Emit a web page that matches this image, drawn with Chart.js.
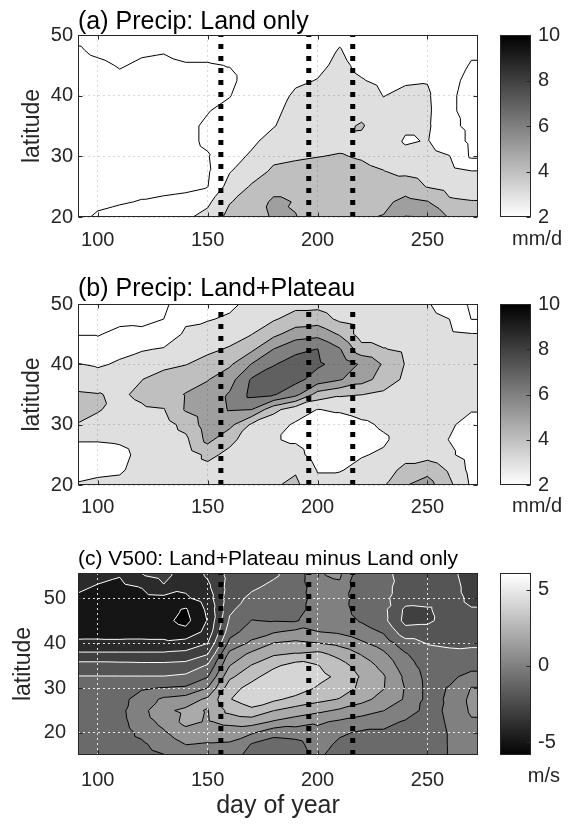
<!DOCTYPE html>
<html><head><meta charset="utf-8">
<script src="https://cdn.jsdelivr.net/npm/chart.js@4.4.0/dist/chart.umd.min.js"></script>
<style>
body{margin:0;background:#fff;width:570px;height:826px;overflow:hidden;position:relative;}
canvas{position:absolute;}
</style></head><body>
<canvas id="pa" width="480" height="262" style="left:0;top:0"></canvas>
<canvas id="ca" width="82" height="262" style="left:480px;top:0"></canvas>
<canvas id="pb" width="480" height="265" style="left:0;top:265px"></canvas>
<canvas id="cb" width="82" height="265" style="left:480px;top:265px"></canvas>
<canvas id="pc" width="480" height="286" style="left:0;top:540px"></canvas>
<canvas id="cc" width="80" height="286" style="left:480px;top:540px"></canvas>
<script>
// ---------------- data ----------------
const days = [90,100,110,120,130,140,150,160,170,180,190,200,210,220,230,240,250,260,270,280];
const latsAB = [20,22.5,25,27.5,30,32.5,35,37.5,40,42.5,45,47.5,50];
const latsC = [15,17.5,20,22.5,25,27.5,30,32.5,35,37.5,40,42.5,45,47.5,50,52.5,55,57.5];
const dayRange = [91, 273];
const latRangeAB = [20, 50];
const latRangeC = [15.1, 55.6];
const markerDays = [156, 196, 216];
const dayTicks = [100, 150, 200, 250];
const latTicksAB = [20, 30, 40, 50];
const latTicksC = [20, 30, 40, 50];
const precipTicks = [2, 4, 6, 8, 10];
const v500Ticks = [-5, 0, 5];
const precipLevels = [2, 3, 4, 5, 6, 7, 8, 9];
const v500Levels = [-5, -4, -3, -2, -1, 0, 1, 2, 3, 4, 5];

// (a) precipitation, land only (mm/d); one row per day, values from lat 20 to 50
const precipLand = [
 [1.8,1.7,1.7,1.7,1.7,1.7,1.7,1.7,1.7,1.7,1.7,1.9,2.2],
 [2.1,1.85,1.7,1.65,1.6,1.6,1.6,1.6,1.6,1.65,1.85,2.15,2.3],
 [2.2,1.95,1.75,1.65,1.6,1.6,1.6,1.6,1.65,1.85,2.05,2.3,2.4],
 [2.3,2.03,1.85,1.7,1.6,1.6,1.6,1.6,1.65,1.75,1.9,2.1,2.3],
 [2.4,2.1,1.85,1.7,1.65,1.6,1.6,1.6,1.65,1.7,1.85,2.05,2.3],
 [2.85,2.15,1.9,1.75,1.8,1.85,1.85,1.8,1.75,1.75,1.95,2.2,2.3],
 [3.3,2.8,1.98,1.9,1.95,2.1,2.1,1.97,1.85,1.85,1.95,2.2,2.3],
 [4.3,3.95,3.4,2.95,2.6,2.4,2.3,2.2,1.97,1.85,2.02,2.3,2.4],
 [4.6,4.35,4.1,3.6,3.15,2.8,2.6,2.5,2.4,2.3,2.3,2.4,2.5],
 [5.1,5.2,4.6,4.15,3.8,3.4,2.95,2.8,2.6,2.5,2.4,2.4,2.5],
 [5.02,4.95,4.6,4.25,3.9,3.6,3.45,3.3,3.15,2.85,2.6,2.5,2.45],
 [4.8,4.7,4.55,4.3,3.98,3.7,3.55,3.4,3.25,3.03,2.8,2.6,2.5],
 [4.7,4.65,4.5,4.3,4.05,3.8,3.75,3.6,3.45,3.3,3.2,3.05,2.8],
 [4.9,4.7,4.5,4.2,3.93,3.75,4.1,3.7,3.45,3.05,2.8,2.6,2.5],
 [5.05,4.75,4.45,4.03,3.7,3.5,3.35,3.2,2.98,2.8,2.6,2.5,2.45],
 [6.05,5.3,4.5,3.8,3.3,2.9,3.15,3.3,3.2,2.9,2.7,2.6,2.5],
 [6.0,5.05,3.95,3.6,3.3,3.05,3.15,3.2,3.15,2.95,2.7,2.55,2.5],
 [4.9,4.15,3.65,3.35,3.03,2.5,2.2,2.1,2.1,2.15,2.3,2.4,2.45],
 [4.6,4.05,3.5,3.05,1.85,1.8,1.8,1.8,1.8,1.85,1.95,2.1,2.3],
 [4.6,4.05,3.5,3.05,1.85,1.8,1.8,1.8,1.8,1.85,1.95,2.1,2.3]
];
// (b) precipitation, land + plateau (mm/d)
const precipPlateau = [
 [3.05,2.8,2.7,3.05,3.98,4.2,4.15,3.6,3.05,2.6,1.95,1.8,1.7],
 [3.15,2.85,2.7,3.05,3.6,4.1,4.05,3.35,2.9,2.3,1.95,1.8,1.7],
 [3.2,2.9,2.8,3.1,3.4,3.6,3.85,3.6,3.1,2.8,2.2,1.8,1.7],
 [3.4,3.3,3.2,3.3,3.5,3.85,4.2,3.98,3.3,2.95,2.15,1.85,1.7],
 [3.5,3.45,3.4,3.45,3.6,3.95,4.6,4.4,3.75,3.05,2.6,2.0,1.8],
 [3.55,3.5,3.5,3.8,4.3,5.1,5.05,4.6,3.97,3.5,3.1,2.9,2.6],
 [3.6,3.75,4.2,5.3,5.5,5.6,5.4,4.95,4.35,3.8,3.3,2.95,2.9],
 [3.5,3.6,3.8,4.2,5.3,6.05,6.1,5.6,4.85,4.1,3.6,3.1,2.85],
 [3.4,3.4,3.45,3.6,3.85,6.0,7.25,7.1,6.05,4.8,3.98,3.5,3.2],
 [3.9,3.6,3.3,3.05,3.3,4.3,7.1,7.4,6.95,6.02,4.75,3.9,3.4],
 [4.2,3.9,3.3,2.9,2.9,3.4,6.3,7.3,7.35,6.8,5.5,4.4,3.7],
 [3.2,2.95,2.6,2.5,2.6,2.98,4.6,6.6,7.15,7.02,5.7,4.5,3.7],
 [3.3,2.95,2.6,2.5,2.6,3.1,4.15,6.1,6.7,6.1,4.9,3.8,3.3],
 [3.4,3.2,2.95,2.7,2.85,3.3,4.02,5.4,5.85,4.4,3.5,3.5,3.3],
 [3.9,3.5,3.1,2.9,3.1,3.4,3.8,4.6,4.9,4.05,3.5,3.35,3.25],
 [4.95,4.3,3.6,3.3,3.3,3.4,3.6,3.8,3.95,3.8,3.5,3.4,3.3],
 [5.4,4.7,3.6,3.3,3.3,3.35,3.4,3.5,3.55,3.4,3.3,3.2,3.05],
 [4.2,3.85,3.15,2.98,3.1,3.25,3.35,3.4,3.4,3.35,3.2,3.0,2.7],
 [2.85,2.7,2.6,2.6,2.75,3.05,3.3,3.35,3.35,3.3,3.05,1.98,1.8],
 [2.85,2.7,2.6,2.6,2.75,3.05,3.3,3.35,3.35,3.3,3.05,1.98,1.8]
];
// (c) V500 difference (m/s); one row per day, values from lat 15 to 57.5
const v500Diff = [
 [-0.5,-0.5,-0.5,-0.45,-0.45,-0.5,-0.6,-0.95,-1.6,-2.8,-3.8,-4.4,-4.6,-4.5,-4.15,-3.75,-3.5,-3.3],
 [-0.5,-0.5,-0.45,-0.4,-0.4,-0.45,-0.6,-0.95,-1.6,-2.8,-3.8,-4.35,-4.6,-4.6,-4.5,-4.1,-3.7,-3.5],
 [-0.5,-0.45,-0.4,-0.3,-0.25,-0.3,-0.5,-0.95,-1.65,-2.8,-3.8,-4.4,-4.6,-4.6,-4.55,-4.3,-3.95,-3.7],
 [-0.35,-0.15,0.2,0.5,0.65,0.4,-0.1,-0.95,-1.7,-2.8,-3.8,-4.35,-4.6,-4.6,-4.4,-3.95,-3.05,-2.8],
 [-0.05,0.4,0.85,1.3,1.8,1.2,0.05,-0.95,-1.7,-2.8,-3.8,-4.4,-4.75,-4.65,-4.3,-3.1,-2.7,-2.5],
 [0.6,1.02,1.6,2.3,2.2,1.45,0.15,-0.8,-1.6,-2.7,-3.6,-4.7,-5.3,-5.1,-4.15,-3.8,-3.55,-3.4],
 [0.8,0.95,1.3,1.9,1.95,2.2,1.02,-0.05,-0.9,-2.02,-3.02,-3.7,-3.95,-3.8,-3.5,-3.2,-2.9,-2.8],
 [0.5,0.9,1.4,2.3,3.3,3.95,3.6,2.8,1.98,1.3,0.3,-0.4,-0.85,-1.2,-1.4,-1.6,-1.7,-1.75],
 [-0.4,-0.05,1.1,2.45,3.8,4.5,4.35,3.7,3.05,2.25,1.2,0.5,0.02,-0.4,-0.8,-1.15,-1.35,-1.4],
 [-0.6,-0.45,0.3,1.9,3.02,4.2,4.6,4.5,3.8,2.9,2.02,0.9,-0.05,-0.3,-0.55,-0.8,-1.1,-1.2],
 [-0.5,-0.3,0.4,1.5,2.6,3.7,4.6,4.75,4.4,3.1,2.2,1.25,-0.1,-0.4,-0.55,-0.65,-0.7,-0.7],
 [0.2,0.45,0.7,1.15,2.25,3.3,3.9,4.3,4.05,3.3,2.02,1.02,0.55,0.45,0.45,0.6,0.9,1.1],
 [-0.5,-0.2,0.15,0.85,1.85,2.95,3.5,3.8,3.4,2.7,1.7,0.85,0.5,0.4,0.45,0.75,1.15,1.3],
 [-0.6,-0.45,-0.15,0.55,1.45,2.3,2.8,2.9,2.55,1.95,1.15,0.45,-0.1,-0.4,-0.55,-0.65,-0.8,-0.9],
 [-0.55,-0.4,-0.15,0.3,1.02,1.65,2.05,2.1,1.7,1.2,0.55,-0.1,-0.7,-0.75,-0.8,-0.8,-0.85,-0.9],
 [-0.6,-0.55,-0.4,-0.1,0.5,0.9,0.95,0.8,0.45,0.1,-0.6,-1.6,-2.3,-2.2,-1.5,-1.3,-1.2,-1.2],
 [-0.5,-0.45,-0.4,-0.35,-0.3,-0.25,-0.25,-0.3,-0.45,-0.7,-1.05,-1.6,-2.2,-2.1,-1.6,-1.4,-1.35,-1.35],
 [0.05,0.05,0.05,0.1,0.15,0.1,0.05,-0.2,-0.5,-0.8,-1.15,-1.45,-1.55,-1.6,-1.6,-1.6,-1.7,-1.7],
 [0.3,0.45,0.6,0.9,1.15,1.25,1.05,0.3,-0.3,-0.7,-1.2,-1.75,-1.8,-1.95,-2.2,-2.35,-2.45,-2.5],
 [0.3,0.45,0.6,0.9,1.15,1.25,1.05,0.3,-0.3,-0.7,-1.2,-1.75,-1.8,-1.95,-2.2,-2.35,-2.45,-2.5]
];

// ---------------- rendering helpers ----------------
const FONT = '"Liberation Sans", Arial, Helvetica, sans-serif';
const INK = '#262626';
const clamp255 = g => Math.max(0, Math.min(255, Math.round(g)));
const precipGray = v => clamp255(255 * (1 - (v - 2) / 8));
const v500Gray = v => clamp255(255 * (v + 6) / 12);

function fracIndex(arr, v) {
  const s = (v - arr[0]) / (arr[1] - arr[0]);
  return Math.max(0, Math.min(arr.length - 1 - 1e-6, s));
}

function contourSegments(f, xs, ys, lev) {
  const out = [];
  const edge = (p, q, pts) => {
    const ap = p[2] >= lev, aq = q[2] >= lev;
    if (ap !== aq) {
      const t = (lev - p[2]) / (q[2] - p[2]);
      pts.push([p[0] + t * (q[0] - p[0]), p[1] + t * (q[1] - p[1])]);
    }
  };
  const tri = (a, b, c) => {
    const pts = [];
    edge(a, b, pts); edge(b, c, pts); edge(c, a, pts);
    if (pts.length >= 2) out.push([pts[0], pts[1]]);
  };
  for (let i = 0; i < xs.length - 1; i++) {
    for (let j = 0; j < ys.length - 1; j++) {
      const p00 = [xs[i], ys[j], f[i][j]], p10 = [xs[i + 1], ys[j], f[i + 1][j]];
      const p11 = [xs[i + 1], ys[j + 1], f[i + 1][j + 1]], p01 = [xs[i], ys[j + 1], f[i][j + 1]];
      tri(p00, p10, p11); tri(p00, p01, p11);
    }
  }
  return out;
}

function makeContourPlugin(field, xs, ys, bandGray, levels, lineColor) {
  return {
    id: 'contourFill',
    beforeDraw(chart) {
      const {ctx, chartArea: a, scales: {x, y}} = chart;
      const L = Math.floor(a.left), T = Math.floor(a.top);
      const W = Math.ceil(a.right) - L, H = Math.ceil(a.bottom) - T;
      const off = document.createElement('canvas');
      off.width = W; off.height = H;
      const octx = off.getContext('2d');
      const img = octx.createImageData(W, H);
      const fx = [], fy = [];
      for (let i = 0; i < W; i++) fx.push(fracIndex(xs, x.getValueForPixel(L + i + 0.5)));
      for (let j = 0; j < H; j++) fy.push(fracIndex(ys, y.getValueForPixel(T + j + 0.5)));
      for (let j = 0; j < H; j++) {
        const j0 = Math.floor(fy[j]), v = fy[j] - j0;
        for (let i = 0; i < W; i++) {
          const i0 = Math.floor(fx[i]), u = fx[i] - i0;
          const c0 = field[i0], c1 = field[i0 + 1];
          const z00 = c0[j0], z10 = c1[j0], z01 = c0[j0 + 1], z11 = c1[j0 + 1];
          const val = u >= v ? z00 + u * (z10 - z00) + v * (z11 - z10)
                             : z00 + v * (z01 - z00) + u * (z11 - z01);
          const g = bandGray(Math.floor(val));
          const k = (j * W + i) * 4;
          img.data[k] = g; img.data[k + 1] = g; img.data[k + 2] = g; img.data[k + 3] = 255;
        }
      }
      octx.putImageData(img, 0, 0);
      ctx.save();
      ctx.beginPath();
      ctx.rect(a.left, a.top, a.right - a.left, a.bottom - a.top);
      ctx.clip();
      ctx.drawImage(off, L, T);
      ctx.lineWidth = 1;
      ctx.lineJoin = 'round';
      for (const lev of levels) {
        const segs = contourSegments(field, xs, ys, lev);
        ctx.strokeStyle = lineColor(lev);
        ctx.beginPath();
        for (const [p, q] of segs) {
          ctx.moveTo(x.getPixelForValue(p[0]), y.getPixelForValue(p[1]));
          ctx.lineTo(x.getPixelForValue(q[0]), y.getPixelForValue(q[1]));
        }
        ctx.stroke();
      }
      ctx.restore();
    }
  };
}

function makeFramePlugin(xTicks, yTicks, leftTicks) {
  return {
    id: 'frameBox',
    afterDraw(chart) {
      const {ctx, chartArea: a, scales: {x, y}} = chart;
      const l = Math.round(a.left) + 0.5, r = Math.round(a.right) - 0.5;
      const t = Math.round(a.top) + 0.5, b = Math.round(a.bottom) - 0.5;
      ctx.save();
      ctx.strokeStyle = INK; ctx.lineWidth = 1;
      ctx.strokeRect(l, t, r - l, b - t);
      ctx.beginPath();
      if (xTicks) for (const v of xTicks) {
        const px = Math.round(x.getPixelForValue(v)) + 0.5;
        ctx.moveTo(px, b); ctx.lineTo(px, b - 4);
        ctx.moveTo(px, t); ctx.lineTo(px, t + 4);
      }
      for (const v of yTicks) {
        const py = Math.round(y.getPixelForValue(v)) + 0.5;
        if (leftTicks) { ctx.moveTo(l, py); ctx.lineTo(l + 4, py); }
        ctx.moveTo(r, py); ctx.lineTo(r - 4, py);
      }
      ctx.stroke();
      ctx.restore();
    }
  };
}

function makeGradientPlugin(grayFn) {
  return {
    id: 'cbarFill',
    beforeDraw(chart) {
      const {ctx, chartArea: a, scales: {y}} = chart;
      for (let py = Math.floor(a.top); py < Math.ceil(a.bottom); py++) {
        const g = grayFn(y.getValueForPixel(py + 0.5));
        ctx.fillStyle = `rgb(${g},${g},${g})`;
        ctx.fillRect(a.left, py, a.right - a.left, 1);
      }
    }
  };
}

function mainPanel(id, c) {
  const datasets = markerDays.map(d => ({
    data: [{x: d, y: c.latRange[0]}, {x: d, y: c.latRange[1]}],
    showLine: true, borderColor: '#000', borderWidth: 5, borderDash: [5, 7],
    pointRadius: 0, fill: false
  }));
  return new Chart(document.getElementById(id), {
    type: 'scatter',
    data: {datasets},
    options: {
      responsive: false, animation: false, devicePixelRatio: 1, events: [],
      layout: {padding: {left: 0, right: 2, top: 0, bottom: 0}},
      plugins: {
        legend: {display: false}, tooltip: {enabled: false},
        title: {display: true, text: c.title, align: 'start', fullSize: false, color: '#000',
                font: {family: FONT, size: c.titleSize, weight: 'normal', lineHeight: 1},
                padding: {top: c.titlePad[0], bottom: c.titlePad[1]}}
      },
      scales: {
        x: {
          type: 'linear', min: dayRange[0], max: dayRange[1],
          afterBuildTicks: s => { s.ticks = dayTicks.map(v => ({value: v})); },
          afterFit: s => { s.height = c.xAxisH; },
          grid: {color: c.gridColor, lineWidth: 1, drawTicks: false},
          border: {display: false, dash: [2, 3]},
          ticks: {padding: c.xTickPad, color: INK, font: {family: FONT, size: 20}, maxRotation: 0, autoSkip: false},
          title: c.xTitle ? {display: true, text: c.xTitle, color: INK, font: {family: FONT, size: 25, lineHeight: 1.2},
                             padding: {top: 0, bottom: c.xTitlePad}} : {display: false}
        },
        y: {
          type: 'linear', min: c.latRange[0], max: c.latRange[1],
          afterBuildTicks: s => { s.ticks = c.latTicks.map(v => ({value: v})); },
          afterFit: s => { s.width = 78; },
          grid: {color: c.gridColor, lineWidth: 1, drawTicks: false},
          border: {display: false, dash: [2, 3]},
          ticks: {padding: c.yTickPad, color: INK, font: {family: FONT, size: 20}, autoSkip: false},
          title: {display: true, text: 'latitude', color: INK, font: {family: FONT, size: 23, lineHeight: 1.2},
                  padding: {top: c.yTitlePad, bottom: 0}}
        }
      }
    },
    plugins: [makeContourPlugin(c.field, days, c.lats, c.band, c.levels, c.lineColor),
              makeFramePlugin(dayTicks, c.latTicks, true)]
  });
}

function colorbar(id, c) {
  return new Chart(document.getElementById(id), {
    type: 'scatter',
    data: {datasets: []},
    options: {
      responsive: false, animation: false, devicePixelRatio: 1, events: [],
      layout: {padding: {left: 20, right: 0, top: c.top, bottom: 0}},
      plugins: {
        legend: {display: false}, tooltip: {enabled: false},
        title: {display: true, position: 'bottom', align: 'end', text: c.unit, color: INK,
                font: {family: FONT, size: 20, weight: 'normal', lineHeight: 1.1},
                padding: {top: c.unitPad[0], bottom: c.unitPad[1]}}
      },
      scales: {
        x: {display: false, min: 0, max: 1},
        y: {
          position: 'right', min: c.range[0], max: c.range[1],
          afterBuildTicks: s => { s.ticks = c.ticks.map(v => ({value: v})); },
          afterFit: s => { s.width = c.axisW; },
          grid: {display: false, drawTicks: false}, border: {display: false},
          ticks: {padding: 7, color: INK, font: {family: FONT, size: 20}, autoSkip: false}
        }
      }
    },
    plugins: [makeGradientPlugin(c.gray), makeFramePlugin(null, c.ticks, false)]
  });
}

const precipLine = () => '#000';
const v500Line = lev => lev < 0 ? '#ffffff' : '#000';

mainPanel('pa', {field: precipLand, lats: latsAB, latRange: latRangeAB, latTicks: latTicksAB,
  title: '(a) Precip: Land only', titleSize: 25, titlePad: [10, 0], xAxisH: 45, xTickPad: 11,
  gridColor: 'rgba(38,38,38,0.18)', yTickPad: 5, yTitlePad: 19,
  band: precipGray, levels: precipLevels, lineColor: precipLine});
colorbar('ca', {top: 35, unit: 'mm/d', unitPad: [11, 12], range: [2, 10], ticks: precipTicks, axisW: 31, gray: precipGray});

mainPanel('pb', {field: precipPlateau, lats: latsAB, latRange: latRangeAB, latTicks: latTicksAB,
  title: '(b) Precip: Land+Plateau', titleSize: 25, titlePad: [12, 2], xAxisH: 45, xTickPad: 10,
  gridColor: 'rgba(38,38,38,0.18)', yTickPad: 5, yTitlePad: 19,
  band: precipGray, levels: precipLevels, lineColor: precipLine});
colorbar('cb', {top: 39, unit: 'mm/d', unitPad: [10, 13], range: [2, 10], ticks: precipTicks, axisW: 31, gray: precipGray});

mainPanel('pc', {field: v500Diff, lats: latsC, latRange: latRangeC, latTicks: latTicksC,
  title: '(c) V500: Land+Plateau minus Land only', titleSize: 21, titlePad: [9, 3], xAxisH: 71, xTickPad: 13,
  xTitle: 'day of year', xTitlePad: 5,
  gridColor: 'rgba(255,255,255,0.85)', yTickPad: 12, yTitlePad: 10,
  band: v500Gray, levels: v500Levels, lineColor: v500Line});
colorbar('cc', {top: 33, unit: 'm/s', unitPad: [10, 39], range: [-5.85, 6.1], ticks: v500Ticks, axisW: 29, gray: v500Gray});
</script>
</body></html>
